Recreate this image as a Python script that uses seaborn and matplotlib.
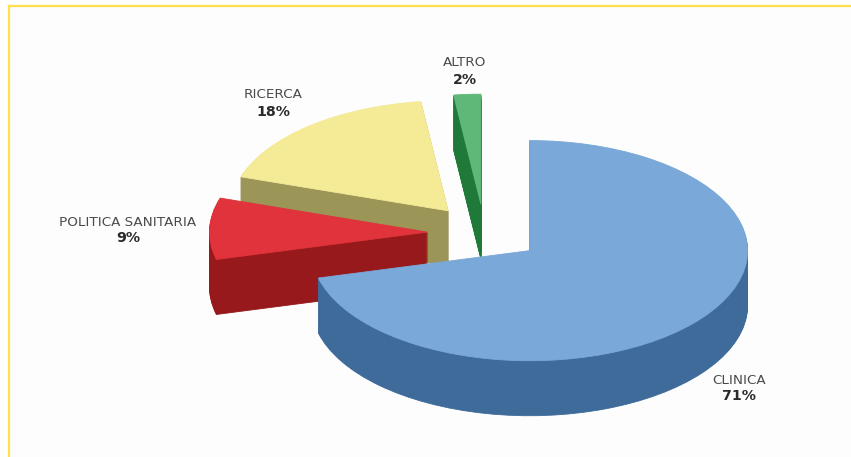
import matplotlib
matplotlib.use("Agg")
import matplotlib.pyplot as plt
import seaborn as sns

# dati
categories = ["CLINICA", "POLITICA SANITARIA", "RICERCA", "ALTRO"]
shares = [71, 9, 18, 2]

top_colors = sns.color_palette(["#7aa8d8", "#e0333c", "#f5ea96", "#5fb878"])
wall_colors = sns.color_palette(["#3f6b9b", "#98191b", "#9c9558", "#1f7a3a"])

# centro delle etichette in pixel
label_pos = [(739, 380), (128, 222), (273, 95), (465, 63)]

# slice order back to front, clinica sits in front of everything
paint_rank = [3, 2, 1, 0]

W, H = 851, 457
squash = 0.505  # tilt of the pie
depth = 55      # wall height in px
radius = 218
explode = 57
cx, cy = 484.5, 233


def ypx(py):
    return (H - py) / squash


sns.set_theme(style="white")
plt.rcParams["font.family"] = ["DejaVu Sans"]

fig = plt.figure(figsize=(W / 100, H / 100), dpi=100, facecolor="white")
ax = fig.add_axes([9 / W, 0, 1 - 9 / W, (H - 6) / H])

# stack of darker pies for the side, lit one on top
for d in range(depth, -1, -1):
    colors = top_colors if d == 0 else wall_colors
    wedges, _ = ax.pie(
        shares,
        explode=[explode] * len(shares),
        center=(cx, ypx(cy + d)),
        radius=radius,
        startangle=90,
        counterclock=False,
        colors=colors,
        wedgeprops={"linewidth": 0.6},
    )
    for w, rank, c in zip(wedges, paint_rank, colors):
        w.set_edgecolor(c)
        w.set_zorder(rank * 1000 + (depth - d))

ax.set_aspect("auto")
ax.set_xlim(9, W)
ax.set_ylim(0, ypx(6))
ax.set_xticks([])
ax.set_yticks([])

ax.set_frame_on(True)
ax.set_facecolor("#fdfdfd")
for side in ["right", "bottom"]:
    ax.spines[side].set_visible(False)
for side in ["top", "left"]:
    ax.spines[side].set_visible(True)
    ax.spines[side].set_color("#ffe04a")
    ax.spines[side].set_linewidth(1.6)

for name, val, (lx, ly) in zip(categories, shares, label_pos):
    ax.text(lx, ypx(ly), name, ha="center", va="center", fontsize=9.7,
            color="#4a4a4a", zorder=9000)
    ax.text(lx, ypx(ly + 16.5), f"{val}%", ha="center", va="center", fontsize=10.2,
            fontweight="bold", color="#2a2a2a", zorder=9000)

fig.savefig("out.png", dpi=100)
